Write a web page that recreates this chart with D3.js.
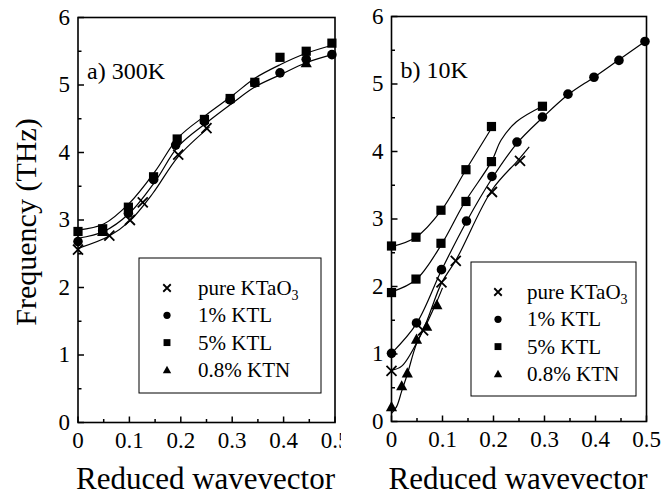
<!DOCTYPE html>
<html><head><meta charset="utf-8">
<script src="https://cdn.jsdelivr.net/npm/d3@7"></script>
<style>body{margin:0;background:#fff}svg{display:block}</style>
</head><body><svg id="c" width="665" height="499"></svg>
<script>
// ---------- data: panel a) 300K ----------
const a_pure_q = [0, 0.061, 0.101, 0.126, 0.195, 0.25];
const a_pure_f = [2.56, 2.77, 3.00, 3.26, 3.97, 4.36];
const a_ktl1_q = [0, 0.048, 0.098, 0.147, 0.19, 0.246, 0.296, 0.344, 0.393, 0.444, 0.494];
const a_ktl1_f = [2.68, 2.84, 3.10, 3.60, 4.11, 4.46, 4.78, 5.03, 5.18, 5.38, 5.45];
const a_ktl5_q = [0, 0.048, 0.098, 0.147, 0.193, 0.246, 0.296, 0.344, 0.393, 0.444, 0.494];
const a_ktl5_f = [2.83, 2.87, 3.19, 3.64, 4.20, 4.49, 4.80, 5.04, 5.41, 5.50, 5.62];
const a_ktn_q = [0.048, 0.444];
const a_ktn_f = [2.83, 5.33];
// fitted curves
const a_fitU_q = [0, 0.05, 0.1, 0.15, 0.195, 0.25, 0.3, 0.344, 0.393, 0.444, 0.5];
const a_fitU_f = [2.85, 2.94, 3.25, 3.72, 4.22, 4.56, 4.84, 5.10, 5.30, 5.47, 5.60];
const a_fitM_q = [0, 0.05, 0.1, 0.15, 0.195, 0.25, 0.3, 0.344, 0.393, 0.444, 0.5];
const a_fitM_f = [2.73, 2.83, 3.10, 3.57, 4.09, 4.44, 4.73, 4.97, 5.15, 5.33, 5.46];
const a_fitL_q = [0, 0.06, 0.1, 0.146, 0.195, 0.256];
const a_fitL_f = [2.58, 2.76, 2.98, 3.40, 3.94, 4.38];

// ---------- data: panel b) 10K ----------
const b_pure_q = [0, 0.062, 0.098, 0.126, 0.197, 0.252];
const b_pure_f = [0.75, 1.35, 2.06, 2.38, 3.40, 3.86];
const b_ktl1_q = [0, 0.049, 0.098, 0.147, 0.197, 0.246, 0.296, 0.346, 0.397, 0.446, 0.497];
const b_ktl1_f = [1.01, 1.46, 2.25, 2.97, 3.63, 4.14, 4.51, 4.85, 5.10, 5.35, 5.63];
const b_ktl5a_q = [0, 0.048, 0.097, 0.146, 0.196];
const b_ktl5a_f = [2.60, 2.73, 3.13, 3.73, 4.37];
const b_ktl5b_q = [0, 0.048, 0.097, 0.146, 0.196, 0.296];
const b_ktl5b_f = [1.91, 2.11, 2.64, 3.26, 3.85, 4.67];
const b_ktn_q = [0, 0.02, 0.031, 0.049, 0.069, 0.089];
const b_ktn_f = [0.22, 0.53, 0.72, 1.22, 1.41, 1.73];
// fitted curves
const b_fit5a_q = [0, 0.048, 0.097, 0.146, 0.203];
const b_fit5a_f = [2.59, 2.73, 3.12, 3.73, 4.43];
const b_fit5b_q = [0, 0.048, 0.097, 0.143, 0.196, 0.215, 0.245, 0.296];
const b_fit5b_f = [1.92, 2.10, 2.61, 3.24, 3.85, 4.17, 4.44, 4.67];
const b_fit1_q = [0, 0.049, 0.098, 0.147, 0.197, 0.246, 0.296, 0.346, 0.397, 0.446, 0.497];
const b_fit1_f = [1.01, 1.45, 2.24, 2.96, 3.60, 4.12, 4.50, 4.84, 5.10, 5.36, 5.63];
const b_fitX_q = [0, 0.02, 0.062, 0.098, 0.127, 0.197, 0.248, 0.27];
const b_fitX_f = [0.76, 0.82, 1.36, 2.05, 2.40, 3.43, 3.87, 4.07];
const b_fitT_q = [0, 0.01, 0.02, 0.031, 0.049, 0.069, 0.089, 0.1];
const b_fitT_f = [0.12, 0.22, 0.45, 0.70, 1.15, 1.45, 1.78, 1.98];

const xTicks = [0, 0.1, 0.2, 0.3, 0.4, 0.5];
const yTicks = [0, 1, 2, 3, 4, 5, 6];
const legendLabels = ["pure KTaO", "1% KTL", "5% KTL", "0.8% KTN"];
const legendKinds = ["x", "circle", "square", "triangle"];

const svg = d3.select("#c");
const FONT = '"Liberation Serif"';

function zip(q, f) { return q.map((d, i) => [d, f[i]]); }

function drawPanel(o) {
  const x = d3.scaleLinear().domain([0, 0.5]).range([o.x0, o.x1]);
  const y = d3.scaleLinear().domain([0, 6]).range([o.y0, o.y1]);
  const g = svg.append("g");

  if (o.mask) {
    g.append("rect").attr("x", o.mask).attr("y", 0).attr("width", 665 - o.mask).attr("height", 499).attr("fill", "#fff");
  }

  // frame
  g.append("rect").attr("x", o.x0).attr("y", o.y1).attr("width", o.x1 - o.x0).attr("height", o.y0 - o.y1)
    .attr("fill", "none").attr("stroke", "#000").attr("stroke-width", 1.6);

  // ticks (inward)
  const xt = d3.range(0, 0.5001, 0.05);
  xt.forEach((t, i) => {
    const L = i % 2 === 0 ? 6 : 3.5;
    g.append("line").attr("x1", x(t)).attr("x2", x(t)).attr("y1", o.y0).attr("y2", o.y0 - L)
      .attr("stroke", "#000").attr("stroke-width", 1.5);
  });
  const yt = d3.range(0, 6.001, 0.5);
  yt.forEach((t, i) => {
    const L = i % 2 === 0 ? 6 : 3.5;
    g.append("line").attr("x1", o.x0).attr("x2", o.x0 + L).attr("y1", y(t)).attr("y2", y(t))
      .attr("stroke", "#000").attr("stroke-width", 1.5);
  });
  // tick labels
  g.selectAll(".xl").data(xTicks).join("text")
    .attr("x", d => x(d)).attr("y", o.y0 + 25).attr("text-anchor", "middle")
    .style("font-family", FONT).attr("font-size", 23).text(d => d === 0 ? "0" : d3.format(".1f")(d));
  g.selectAll(".yl").data(yTicks).join("text")
    .attr("x", o.x0 - 8).attr("y", d => y(d) + 7).attr("text-anchor", "end")
    .style("font-family", FONT).attr("font-size", 23).text(d => d);

  // x title
  g.append("text").attr("x", (o.x0 + o.x1) / 2 - 1).attr("y", 489).attr("text-anchor", "middle")
    .style("font-family", FONT).attr("font-size", 31).text("Reduced wavevector");

  // panel label
  g.append("text").attr("x", o.x0 + 9).attr("y", o.y1 + 61)
    .style("font-family", FONT).attr("font-size", 24).text(o.label);

  // curves
  const line = d3.line().x(d => x(d[0])).y(d => y(d[1])).curve(d3.curveCatmullRom.alpha(0.5));
  o.fits.forEach(f => {
    g.append("path").attr("d", line(zip(f[0], f[1]))).attr("fill", "none")
      .attr("stroke", "#000").attr("stroke-width", 1.2);
  });

  // markers
  o.series.forEach(s => {
    zip(s.q, s.f).forEach(p => drawMarker(g, s.kind, x(p[0]), y(p[1]), 1));
  });

  // legend
  const L = o.legend;
  g.append("rect").attr("x", L.x).attr("y", L.y).attr("width", L.w).attr("height", L.h)
    .attr("fill", "#fff").attr("stroke", "#000").attr("stroke-width", 1);
  legendLabels.forEach((lab, i) => {
    const cy = L.y + 30 + i * 27.3;
    drawMarker(g, legendKinds[i], L.x + L.sx, cy, 0.75);
    const t = g.append("text").attr("x", L.x + L.tx).attr("y", cy + 7)
      .style("font-family", FONT).attr("font-size", 21).text(lab);
    if (i === 0) t.append("tspan").attr("font-size", 14).attr("dy", 5).text("3");
  });
}

function drawMarker(g, kind, cx, cy, s) {
  if (kind === "x") {
    const r = 5 * s;
    g.append("path").attr("d", `M${cx - r},${cy - r}L${cx + r},${cy + r}M${cx - r},${cy + r}L${cx + r},${cy - r}`)
      .attr("stroke", "#000").attr("stroke-width", 1.8).attr("fill", "none");
  } else if (kind === "circle") {
    g.append("circle").attr("cx", cx).attr("cy", cy).attr("r", 4.8 * s).attr("fill", "#000");
  } else if (kind === "square") {
    const h = 4.6 * s;
    g.append("rect").attr("x", cx - h).attr("y", cy - h).attr("width", 2 * h).attr("height", 2 * h).attr("fill", "#000");
  } else {
    const h = 5.6 * s;
    g.append("path").attr("d", `M${cx},${cy - h}L${cx + h},${cy + h * 0.8}L${cx - h},${cy + h * 0.8}Z`).attr("fill", "#000");
  }
}

drawPanel({
  x0: 78, x1: 335, y0: 422.5, y1: 17.5, label: "a) 300K",
  fits: [[a_fitU_q, a_fitU_f], [a_fitM_q, a_fitM_f], [a_fitL_q, a_fitL_f]],
  series: [
    { kind: "x", q: a_pure_q, f: a_pure_f },
    { kind: "triangle", q: a_ktn_q, f: a_ktn_f },
    { kind: "circle", q: a_ktl1_q, f: a_ktl1_f },
    { kind: "square", q: a_ktl5_q, f: a_ktl5_f }
  ],
  legend: { x: 139, y: 258, w: 182, h: 135, sx: 28, tx: 59 }
});
drawPanel({
  x0: 391.5, x1: 646.5, y0: 421.5, y1: 16.5, label: "b) 10K", mask: 341,
  fits: [[b_fit5a_q, b_fit5a_f], [b_fit5b_q, b_fit5b_f], [b_fit1_q, b_fit1_f], [b_fitX_q, b_fitX_f], [b_fitT_q, b_fitT_f]],
  series: [
    { kind: "x", q: b_pure_q, f: b_pure_f },
    { kind: "triangle", q: b_ktn_q, f: b_ktn_f },
    { kind: "circle", q: b_ktl1_q, f: b_ktl1_f },
    { kind: "square", q: b_ktl5a_q, f: b_ktl5a_f },
    { kind: "square", q: b_ktl5b_q, f: b_ktl5b_f }
  ],
  legend: { x: 471, y: 262, w: 165, h: 134, sx: 27, tx: 56 }
});

// y title
svg.append("text").attr("transform", "translate(36,222) rotate(-90)").attr("text-anchor", "middle")
  .style("font-family", FONT).attr("font-size", 30).text("Frequency (THz)");
</script>
</body></html>
